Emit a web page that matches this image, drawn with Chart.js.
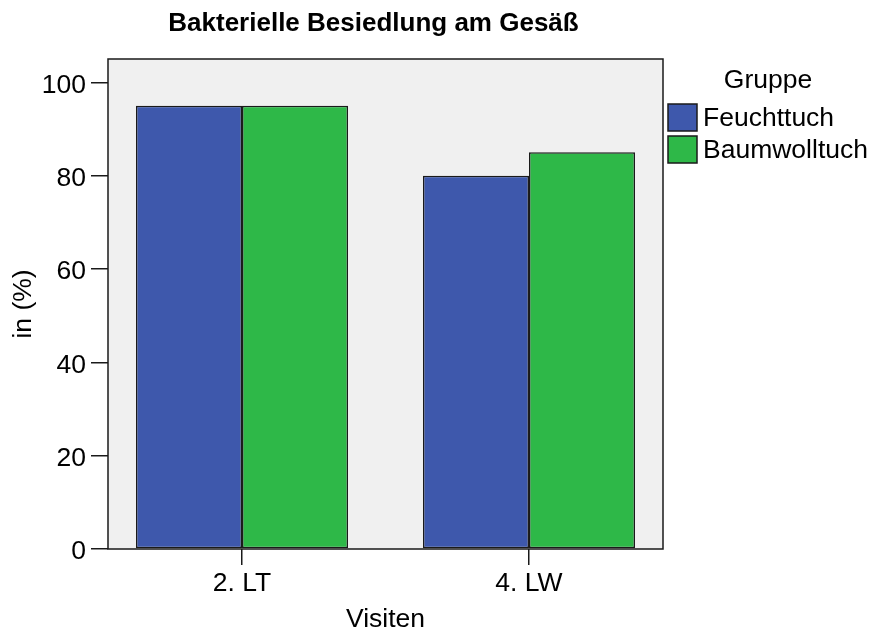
<!DOCTYPE html>
<html>
<head>
<meta charset="utf-8">
<script src="https://cdn.jsdelivr.net/npm/chart.js@4.4.0/dist/chart.umd.min.js"></script>
<style>
  body { margin: 0; background: #fff; }
  #wrap { width: 872px; height: 629px; }
</style>
</head>
<body>
<div id="wrap"><canvas id="barChart" width="872" height="629"></canvas></div>
<script>
const visiten = ["2. LT", "4. LW"];
const feuchttuch = [95, 80];
const baumwolltuch = [95, 85];
const yTicks = [0, 20, 40, 60, 80, 100];

const FONT = "'Liberation Sans', Arial, sans-serif";
const INK = "#1a1a1a";

// grey plot background and black frame round the chart area
const framePlugin = {
  id: "frame",
  beforeDatasetsDraw(chart) {
    const { ctx, chartArea: a } = chart;
    ctx.save();
    ctx.fillStyle = "#F0F0F0";
    ctx.fillRect(a.left, a.top, a.right - a.left, a.bottom - a.top);
    ctx.restore();
  },
  afterDatasetsDraw(chart) {
    const { ctx, chartArea: a } = chart;
    ctx.save();
    ctx.strokeStyle = INK;
    ctx.lineWidth = 1.5;
    ctx.strokeRect(a.left, a.top, a.right - a.left, a.bottom - a.top);
    ctx.restore();
  }
};

// title sits a bit left of the plot centre, like the SPSS output
const titlePlugin = {
  id: "spssTitle",
  afterDraw(chart) {
    const { ctx, chartArea: a } = chart;
    ctx.save();
    ctx.font = "bold 26px " + FONT;
    ctx.fillStyle = "#000";
    ctx.textAlign = "center";
    ctx.textBaseline = "middle";
    ctx.fillText("Bakterielle Besiedlung am Gesäß", (a.left + a.right) / 2 - 12, 24);
    ctx.restore();
  }
};

// legend with "Gruppe" heading on the right of the plot
const legendPlugin = {
  id: "spssLegend",
  afterDraw(chart) {
    const { ctx, chartArea: a } = chart;
    const x = a.right + 5;
    ctx.save();
    ctx.font = "26.5px " + FONT;
    ctx.fillStyle = "#000";
    ctx.textBaseline = "middle";
    ctx.textAlign = "center";
    ctx.fillText("Gruppe", x + 100, 81);
    ctx.textAlign = "left";
    chart.data.datasets.forEach((ds, i) => {
      const y = 104 + i * 32;
      ctx.fillStyle = ds.backgroundColor;
      ctx.fillRect(x, y, 29, 27);
      ctx.strokeStyle = INK;
      ctx.lineWidth = 1.5;
      ctx.strokeRect(x, y, 29, 27);
      ctx.fillStyle = "#000";
      ctx.fillText(ds.label, x + 35, y + 15);
    });
    ctx.restore();
  }
};

const tickFont = { family: FONT, size: 26.5 };

const dataBar = {
  datasets: [
    {
      label: "Feuchttuch",
      data: visiten.map((v, i) => ({ x: i, y: feuchttuch[i] })),
      backgroundColor: "#3E58AC",
    },
    {
      label: "Baumwolltuch",
      data: visiten.map((v, i) => ({ x: i, y: baumwolltuch[i] })),
      backgroundColor: "#2EB848",
    },
  ],
};

const configBar = {
  type: "bar",
  data: dataBar,
  options: {
    responsive: false,
    animation: false,
    layout: { padding: { left: 4, top: 59, right: 209, bottom: 0 } },
    datasets: {
      bar: {
        borderColor: INK,
        borderWidth: 1.5,
        borderSkipped: false,
        categoryPercentage: 0.739,
        barPercentage: 1,
      },
    },
    plugins: {
      legend: { display: false },
      tooltip: { enabled: false },
    },
    scales: {
      x: {
        type: "linear",
        offset: false,
        min: -0.467,
        max: 1.467,
        afterBuildTicks: (axis) => {
          axis.ticks = visiten.map((v, i) => ({ value: i }));
        },
        afterFit: (scale) => { scale.height = 80; },
        ticks: {
          autoSkip: false,
          maxRotation: 0,
          padding: 3,
          color: "#000",
          font: tickFont,
          callback: (value) => visiten[value],
        },
        grid: { offset: false, drawOnChartArea: false, drawTicks: true, tickLength: 16, color: INK, lineWidth: 1.5 },
        border: { display: false },
        title: { display: true, text: "Visiten", color: "#000", font: { family: FONT, size: 26.5, lineHeight: 0.4 } },
      },
      y: {
        min: 0,
        max: 105,
        afterBuildTicks: (axis) => {
          axis.ticks = yTicks.map((v) => ({ value: v }));
        },
        afterFit: (scale) => { scale.width = 104; },
        ticks: { padding: 5, labelOffset: 3, color: "#000", font: tickFont },
        grid: { drawOnChartArea: false, drawTicks: true, tickLength: 17, color: INK, lineWidth: 1.5 },
        border: { display: false },
        title: { display: true, text: "in (%)", color: "#000", font: tickFont },
      },
    },
  },
  plugins: [framePlugin, titlePlugin, legendPlugin],
};

new Chart(document.getElementById("barChart"), configBar);
</script>
</body>
</html>
